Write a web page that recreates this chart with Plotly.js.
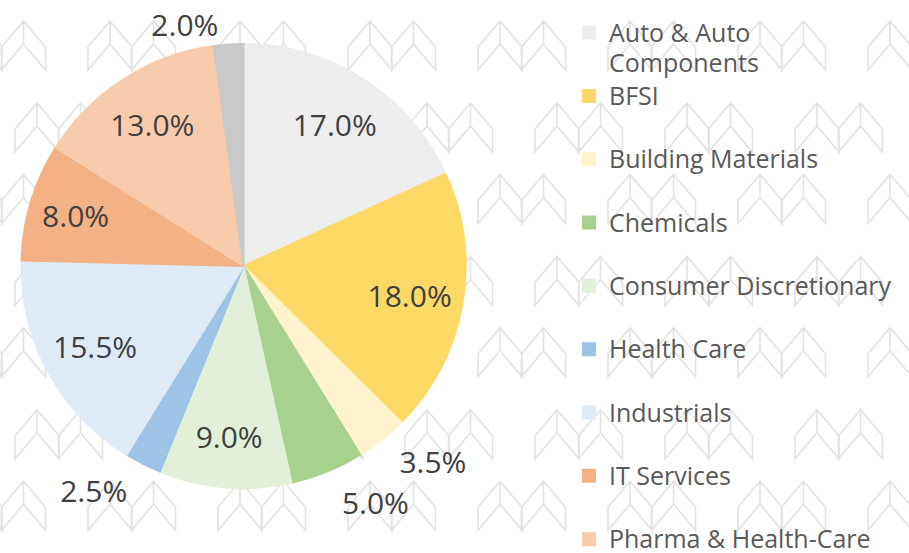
<!DOCTYPE html>
<html>
<head>
<meta charset="utf-8">
<script src="https://cdn.plot.ly/plotly-3.0.1.min.js"></script>
<style>
html,body{margin:0;padding:0;background:#ffffff;}
#chart{width:909px;height:553px;}
path.textline{display:none !important;}
</style>
</head>
<body>
<div id="chart"></div>
<script>
// ---- data ----
const sectors = ['Auto & Auto<br>Components', 'BFSI', 'Building Materials', 'Chemicals',
  'Consumer Discretionary', 'Health Care', 'Industrials', 'IT Services',
  'Pharma & Health-Care', 'Others'];
const weights = [17.0, 18.0, 3.5, 5.0, 9.0, 2.5, 15.5, 8.0, 13.0, 2.0];
const percentLabels = weights.map(v => v.toFixed(1) + '%');

// ---- style ----
const sliceColors = ['#EDEDED', '#FFD966', '#FFF2CC', '#A9D18E', '#E2F0D9',
  '#9DC3E6', '#DEEBF7', '#F4B183', '#F8CBAD', '#C9C9C9'];
// where each data label goes: inside the slice, just outside, or a bit further out
const labelSpot = ['in', 'in', 'far', 'far', 'in', 'far', 'in', 'in', 'in', 'near'];

const W = 909, H = 553;
const pieDomain = { x: [21 / W, 466 / W], y: [1 - 488 / H, 1 - 44 / H] };
const outerLabelDomain = { x: [9 / W, 478 / W], y: [1 - 500 / H, 1 - 32 / H] };

// legend entries: every entry takes two legend lines like the reference
function legendText(s) {
  const lines = s.split('<br>').map(l => '<span style="font-size:25px">' + l + '</span>');
  if (lines.length < 2) lines.push('\u00a0');
  return lines.join('<br>');
}
const legendLabels = sectors.map(legendText);

// decorative watermark of chevrons (background only)
function px(x) { return (x / W).toFixed(5); }
function py(y) { return (1 - y / H).toFixed(5); }
function chevron(cx, cy) {
  return 'M' + px(cx) + ',' + py(cy) +
    'L' + px(cx - 22) + ',' + py(cy + 26) +
    'L' + px(cx - 22) + ',' + py(cy + 49) +
    'L' + px(cx) + ',' + py(cy + 23) +
    'L' + px(cx + 22) + ',' + py(cy + 49) +
    'L' + px(cx + 22) + ',' + py(cy + 26) + 'Z' +
    'M' + px(cx) + ',' + py(cy) + 'L' + px(cx) + ',' + py(cy + 23);
}
let wm = '';
const rowStep = 153.4, colStep = 130;
for (let r = 0; r < 4; r++) {
  const ya = 21 + r * rowStep;
  const yb = 103 + r * rowStep;
  for (let c = -1; c < 8; c++) {
    const xa = -20 + c * colStep;
    if (ya < H) { wm += chevron(xa, ya) + chevron(xa + 43.5, ya); }
    const xb = 37 + c * colStep;
    if (yb < H) { wm += chevron(xb, yb) + chevron(xb + 43.5, yb); }
  }
}

const common = {
  type: 'pie',
  labels: legendLabels,
  values: weights,
  sort: false,
  direction: 'clockwise',
  rotation: 0,
  automargin: false,
  hoverinfo: 'none'
};
const labelFont = { family: 'Open Sans, sans-serif', size: 30, color: '#404040' };
const clear = sliceColors.map(() => 'rgba(0,0,0,0)');

// slices + legend
const slices = Object.assign({}, common, {
  textinfo: 'none',
  marker: { colors: sliceColors, line: { color: sliceColors, width: 2 } },
  domain: pieDomain
});

// inside data labels (transparent ring so labels sit further out like the reference)
const insideLabels = Object.assign({}, common, {
  text: percentLabels,
  textinfo: 'text',
  textposition: labelSpot.map(s => s === 'in' ? 'inside' : (s === 'near' ? 'outside' : 'none')),
  insidetextorientation: 'horizontal',
  hole: 0.52,
  showlegend: false,
  marker: { colors: clear, line: { width: 0 } },
  textfont: labelFont,
  domain: pieDomain
});

// outside data labels for the thin lower slices
const outsideLabels = Object.assign({}, common, {
  text: percentLabels,
  textinfo: 'text',
  textposition: labelSpot.map(s => s === 'far' ? 'outside' : 'none'),
  showlegend: false,
  marker: { colors: clear, line: { width: 0 } },
  textfont: labelFont,
  domain: outerLabelDomain
});

const layout = {
  width: W, height: H,
  margin: { l: 0, r: 0, t: 0, b: 0, pad: 0 },
  paper_bgcolor: '#ffffff',
  plot_bgcolor: '#ffffff',
  showlegend: true,
  legend: {
    x: 558 / W, xanchor: 'left',
    y: 1, yanchor: 'top',
    valign: 'top',
    maxheight: 3000,
    borderwidth: 11,
    bordercolor: 'rgba(0,0,0,0)',
    bgcolor: 'rgba(0,0,0,0)',
    font: { family: 'Open Sans, sans-serif', size: 23.2, color: '#595959' }
  },
  shapes: [{
    type: 'path', xref: 'paper', yref: 'paper', layer: 'below',
    path: wm, line: { color: '#E3E3E3', width: 1.6 }
  }]
};

Plotly.newPlot('chart', [slices, insideLabels, outsideLabels], layout, { staticPlot: true, displayModeBar: false });
</script>
</body>
</html>
